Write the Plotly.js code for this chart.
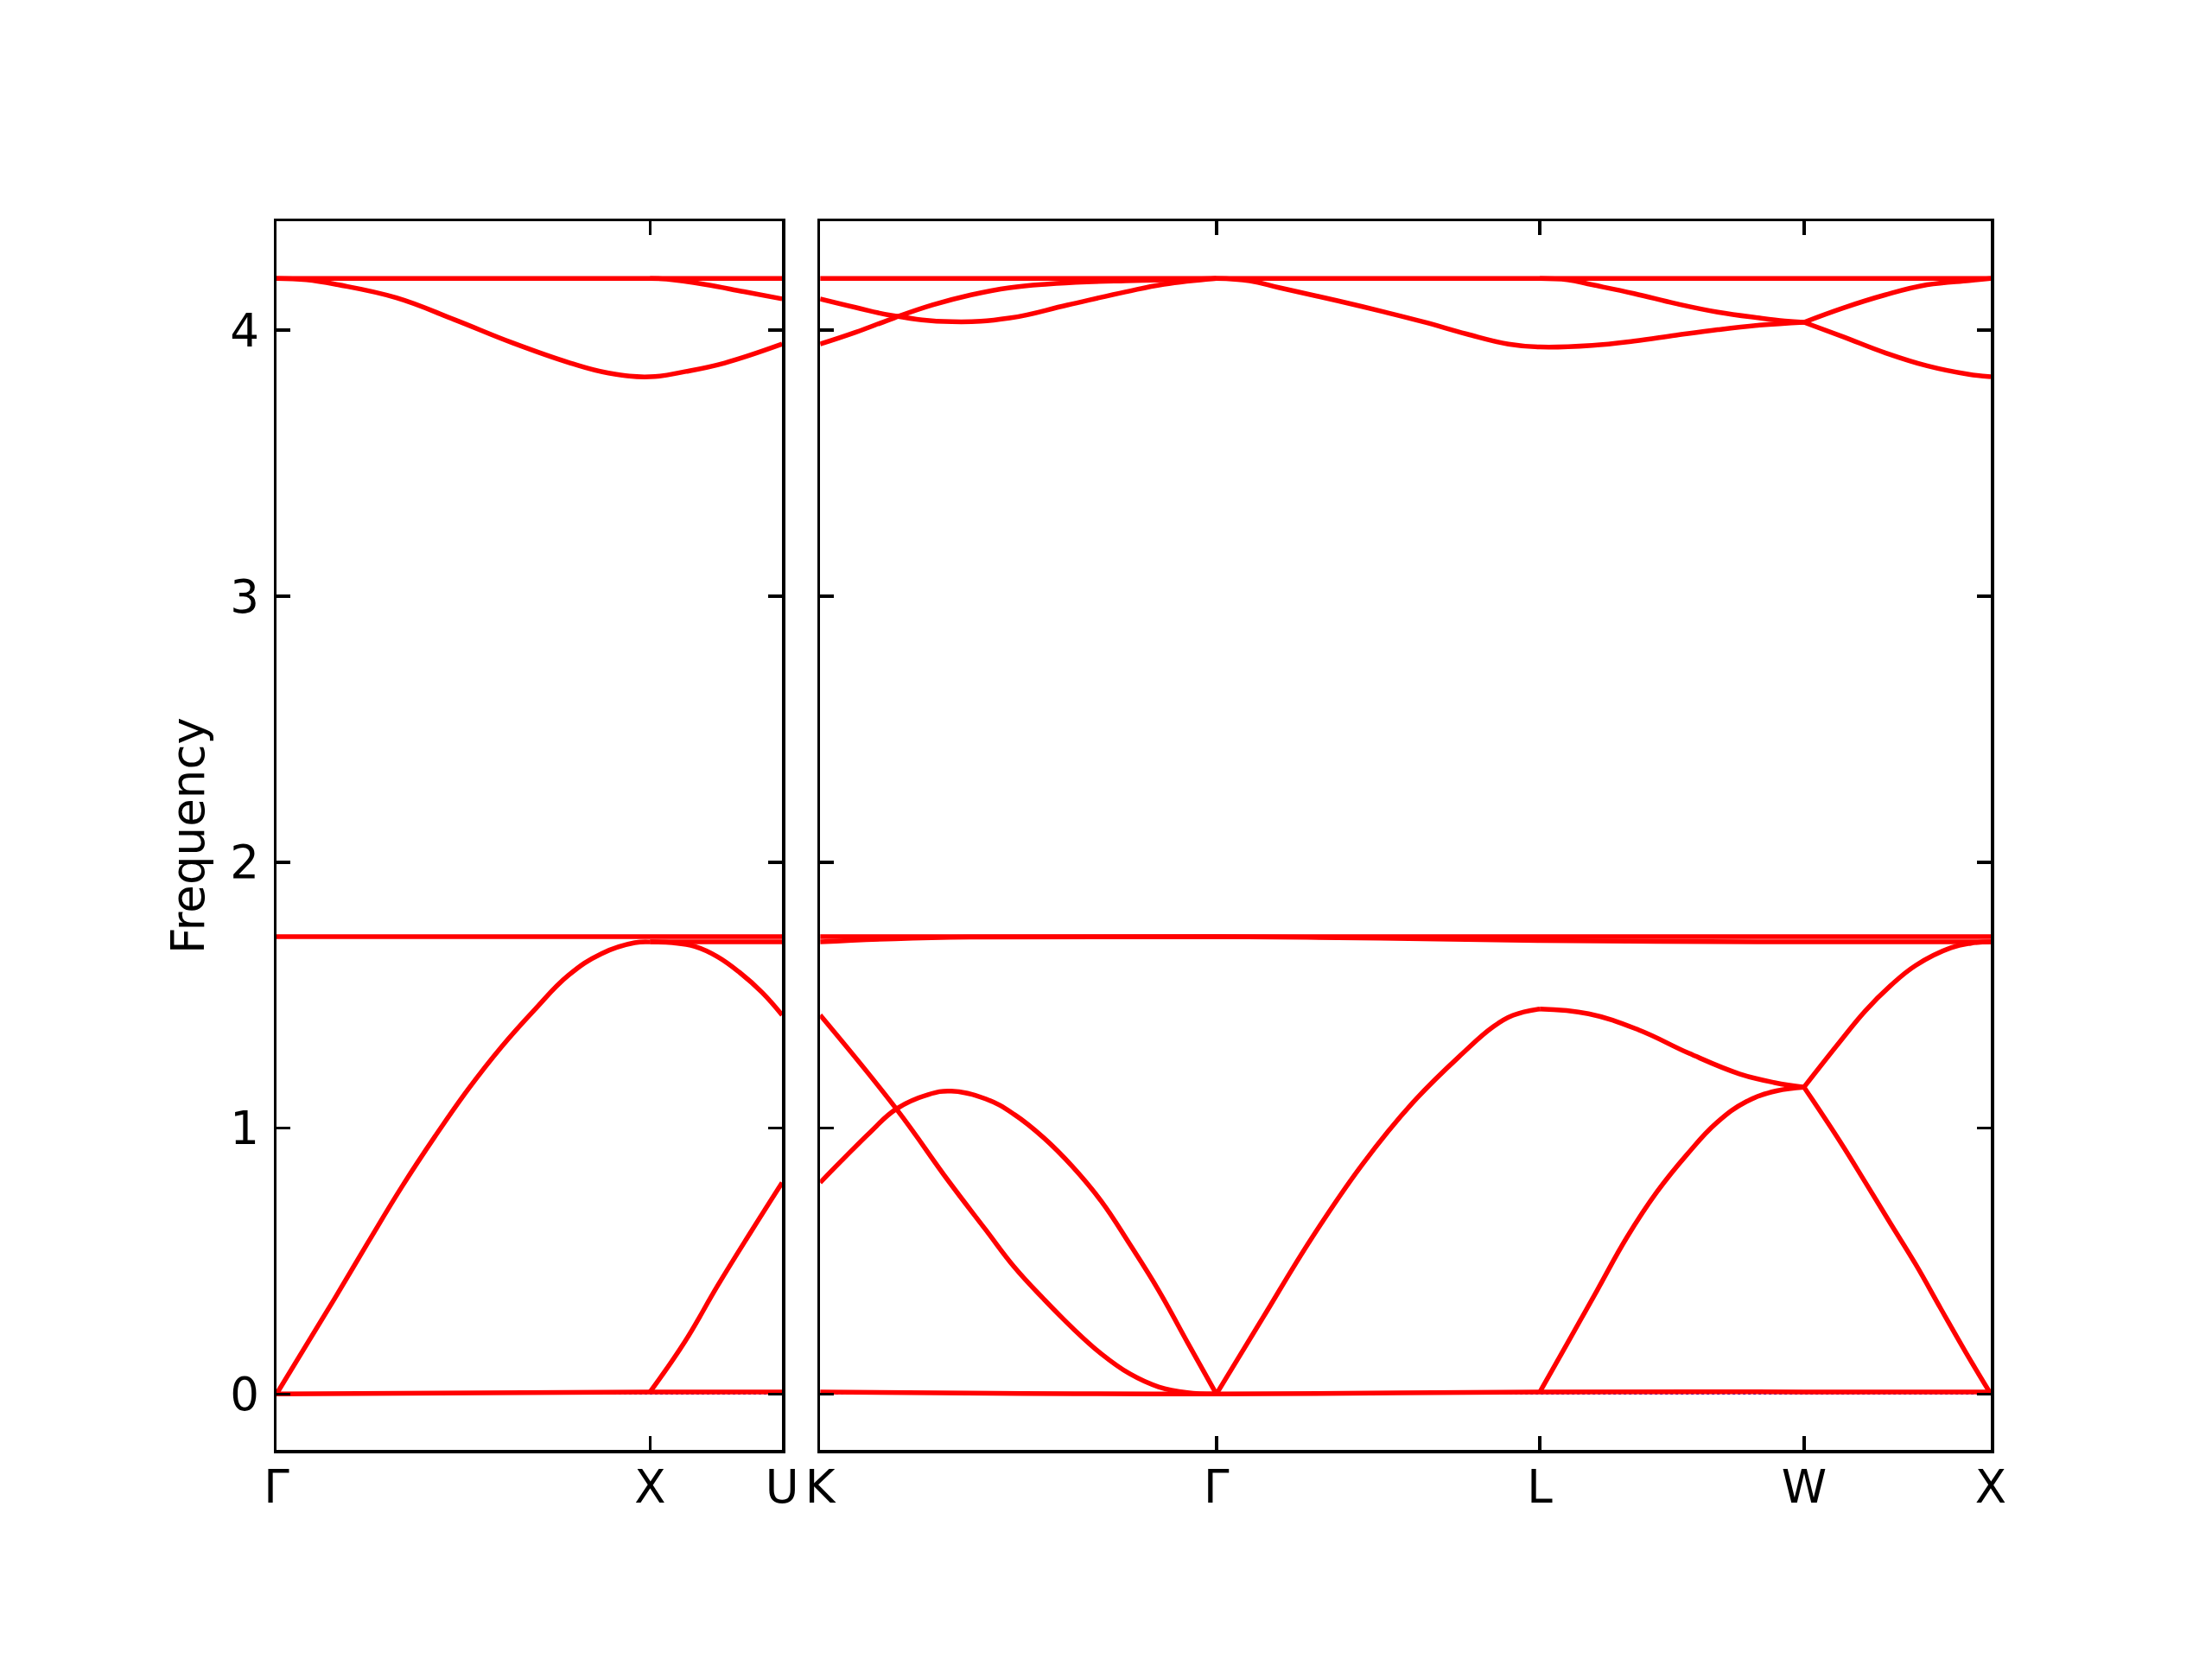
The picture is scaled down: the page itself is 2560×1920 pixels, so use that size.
<!DOCTYPE html>
<html><head><meta charset="utf-8">
<script src="https://cdn.plot.ly/plotly-3.0.1.min.js"></script>
<style>html,body{margin:0;padding:0;background:#fff;} #chart{width:2560px;height:1920px;}</style>
</head><body><div id="chart"></div>
<script>
// ---------- ticks (path distance along the Brillouin-zone path) ----------
const leftTickVals = [0, 1.0, 1.3536];
const leftTickText = ['Γ', 'X', 'U'];
const rightTickVals = [0, 1.0607, 1.9267, 2.6338, 3.1338];
const rightTickText = ['K', 'Γ', 'L', 'W', 'X'];
const yTickVals = [0, 1, 2, 3, 4];
const yTickText = ['0', '1', '2', '3', '4'];
const yRange = [-0.21, 4.41];

// ---------- left panel (Γ–X–U) ----------
const L_top_x = [0, 1.3536];
const L_top_y = [4.195, 4.195];
const L_lo_x = [0, 0.08, 0.165, 0.321, 0.476, 0.631, 0.786, 0.889, 1.0, 1.096, 1.200, 1.3536];
const L_lo_y = [4.195, 4.190, 4.171, 4.122, 4.040, 3.953, 3.877, 3.839, 3.825, 3.845, 3.877, 3.948];
const L_split_x = [1.0, 1.044, 1.148, 1.251, 1.3536];
const L_split_y = [4.195, 4.192, 4.172, 4.145, 4.118];
const L_mid_x = [0, 1.3536];
const L_mid_y = [1.72, 1.72];
const L_la_x = [0, 0.156, 0.245, 0.335, 0.424, 0.513, 0.602, 0.691, 0.781, 0.870, 0.959, 1.0];
const L_la_y = [0.0, 0.360, 0.570, 0.778, 0.968, 1.146, 1.305, 1.445, 1.574, 1.656, 1.697, 1.70];
const L_xuflat_x = [1.0, 1.3536];
const L_xuflat_y = [1.70, 1.70];
const L_desc_x = [1.0, 1.06, 1.12, 1.18, 1.24, 1.30, 1.3536];
const L_desc_y = [1.70, 1.697, 1.683, 1.645, 1.585, 1.51, 1.425];
const L_zero_x = [0, 1.0, 1.3536];
const L_zero_y = [0, 0.008, 0.008];
const L_rise_x = [1.0, 1.0928, 1.182, 1.271, 1.3536];
const L_rise_y = [0.008, 0.196, 0.41, 0.612, 0.795];

// ---------- right panel (K–Γ–L–W–X) ----------
const R_top_x = [0, 3.1338];
const R_top_y = [4.195, 4.195];
const R_D_x = [0, 0.0943, 0.1975, 0.3524, 0.5073, 0.662, 0.817, 0.920, 1.0607];
const R_D_y = [4.118, 4.086, 4.054, 4.032, 4.046, 4.095, 4.144, 4.173, 4.195];
const R_E_x = [0, 0.0943, 0.1975, 0.3008, 0.404, 0.5073, 0.6104, 0.7135, 0.817, 0.920, 1.0607];
const R_E_y = [3.948, 3.992, 4.046, 4.095, 4.133, 4.160, 4.174, 4.182, 4.186, 4.189, 4.195];
const R_F_x = [1.0607, 1.15, 1.2298, 1.3845, 1.5064, 1.6185, 1.7304, 1.8425, 1.9267, 2.0668, 2.1787, 2.2909, 2.403, 2.5151, 2.6338];
const R_F_y = [4.195, 4.186, 4.160, 4.111, 4.070, 4.030, 3.986, 3.948, 3.937, 3.943, 3.959, 3.981, 4.002, 4.019, 4.030];
const R_G_x = [1.9267, 2.0, 2.0668, 2.1787, 2.2909, 2.403, 2.5151, 2.5822, 2.6338];
const R_G_y = [4.195, 4.190, 4.171, 4.138, 4.100, 4.068, 4.046, 4.035, 4.030];
const R_WXup_x = [2.6338, 2.7392, 2.8513, 2.9635, 3.0754, 3.1338];
const R_WXup_y = [4.030, 4.084, 4.133, 4.171, 4.187, 4.195];
const R_WXlo_x = [2.6338, 2.7392, 2.8513, 2.9635, 3.0754, 3.1338];
const R_WXlo_y = [4.030, 3.975, 3.915, 3.866, 3.834, 3.825];
const R_mid_x = [0, 3.1338];
const R_mid_y = [1.72, 1.72];
const R_mid2_x = [0, 0.2, 0.4, 1.0607, 1.5, 1.9267, 2.6338, 3.1338];
const R_mid2_y = [1.70, 1.712, 1.718, 1.72, 1.714, 1.705, 1.70, 1.70];
const R_A_x = [0, 0.204, 0.343, 0.443, 0.520, 0.598, 0.675, 0.752, 0.829, 0.906, 0.983, 1.0607];
const R_A_y = [1.425, 1.072, 0.802, 0.618, 0.477, 0.358, 0.249, 0.152, 0.076, 0.027, 0.005, 0.0];
const R_B_x = [0, 0.057, 0.135, 0.204, 0.289, 0.351, 0.443, 0.520, 0.598, 0.675, 0.752, 0.829, 0.906, 0.983, 1.0607];
const R_B_y = [0.795, 0.877, 0.986, 1.072, 1.126, 1.139, 1.110, 1.051, 0.964, 0.856, 0.726, 0.563, 0.390, 0.195, 0.0];
const R_GL_x = [1.0607, 1.1813, 1.3161, 1.4506, 1.5854, 1.72, 1.8009, 1.8548, 1.9267];
const R_GL_y = [0, 0.278, 0.587, 0.862, 1.094, 1.281, 1.380, 1.424, 1.448];
const R_LWup_x = [1.9267, 2.0569, 2.1915, 2.3262, 2.4608, 2.5551, 2.6338];
const R_LWup_y = [1.448, 1.430, 1.369, 1.281, 1.204, 1.171, 1.154];
const R_LWlo_x = [1.9267, 2.0, 2.08, 2.16, 2.24, 2.32, 2.40, 2.48, 2.56, 2.6338];
const R_LWlo_y = [0.008, 0.19, 0.39, 0.59, 0.76, 0.90, 1.02, 1.10, 1.14, 1.154];
const R_WXa_x = [2.6338, 2.730, 2.798, 2.865, 2.933, 3.027, 3.08, 3.1338];
const R_WXa_y = [1.154, 1.325, 1.441, 1.535, 1.612, 1.678, 1.695, 1.70];
const R_WXb_x = [2.6338, 2.730, 2.798, 2.865, 2.933, 2.9995, 3.0668, 3.1338];
const R_WXb_y = [1.154, 0.950, 0.796, 0.642, 0.487, 0.322, 0.157, 0.0];
const R_zero_x = [0, 1.0607, 1.9267, 2.6338, 3.1338];
const R_zero_y = [0.008, 0, 0.008, 0.008, 0.008];

// ---------- build ----------
const RED = '#ff0000';
const leftBands = [
  [L_top_x, L_top_y], [L_lo_x, L_lo_y], [L_split_x, L_split_y], [L_mid_x, L_mid_y],
  [L_la_x, L_la_y], [L_xuflat_x, L_xuflat_y], [L_desc_x, L_desc_y], [L_zero_x, L_zero_y],
  [L_rise_x, L_rise_y]
];
const rightBands = [
  [R_top_x, R_top_y], [R_D_x, R_D_y], [R_E_x, R_E_y], [R_F_x, R_F_y], [R_G_x, R_G_y],
  [R_WXup_x, R_WXup_y], [R_WXlo_x, R_WXlo_y], [R_mid_x, R_mid_y], [R_mid2_x, R_mid2_y],
  [R_A_x, R_A_y], [R_B_x, R_B_y], [R_GL_x, R_GL_y], [R_LWup_x, R_LWup_y], [R_LWlo_x, R_LWlo_y],
  [R_WXa_x, R_WXa_y], [R_WXb_x, R_WXb_y], [R_zero_x, R_zero_y]
];

const traces = [];
const lEnd = leftTickVals[leftTickVals.length - 1];
const rEnd = rightTickVals[rightTickVals.length - 1];
// zero reference lines (blue dotted)
traces.push({x: [0, lEnd], y: [0, 0], xaxis: 'x', yaxis: 'y', mode: 'lines',
  line: {color: '#0000ff', width: 1.5, dash: 'dot'}, hoverinfo: 'skip', showlegend: false});
traces.push({x: [0, rEnd], y: [0, 0], xaxis: 'x2', yaxis: 'y2', mode: 'lines',
  line: {color: '#0000ff', width: 1.5, dash: 'dot'}, hoverinfo: 'skip', showlegend: false});
const bandLine = {color: RED, width: 5.5, shape: 'spline', smoothing: 1.2};
leftBands.forEach(b => traces.push({x: b[0], y: b[1], xaxis: 'x', yaxis: 'y', mode: 'lines',
  line: bandLine, showlegend: false}));
rightBands.forEach(b => traces.push({x: b[0], y: b[1], xaxis: 'x2', yaxis: 'y2', mode: 'lines',
  line: bandLine, showlegend: false}));

const plotW = 2560 - 320 - 256;
const gapPx = 44;
const pxPerUnit = (plotW - gapPx) / (lEnd + rEnd);
const dL = lEnd * pxPerUnit / plotW;
const dR = (lEnd * pxPerUnit + gapPx) / plotW;

const FONT = {family: 'DejaVu Sans, sans-serif', size: 53, color: '#000'};
const axBase = {
  showgrid: false, zeroline: false, showline: true, linecolor: '#000', linewidth: 3.5,
  mirror: 'allticks', ticks: 'inside', ticklen: 16, tickwidth: 3.5, tickcolor: '#000',
  tickfont: FONT
};

const layout = {
  width: 2560, height: 1920, autosize: false,
  paper_bgcolor: '#fff', plot_bgcolor: '#fff',
  margin: {l: 320, r: 256, t: 256, b: 242},
  showlegend: false,
  font: FONT,
  xaxis: Object.assign({}, axBase, {domain: [0, dL], range: [0, lEnd], anchor: 'y',
    tickmode: 'array', tickvals: leftTickVals, ticktext: leftTickText, ticklabelstandoff: -6}),
  xaxis2: Object.assign({}, axBase, {domain: [dR, 1], range: [0, rEnd], anchor: 'y2',
    tickmode: 'array', tickvals: rightTickVals, ticktext: rightTickText, ticklabelstandoff: -6}),
  yaxis: Object.assign({}, axBase, {range: yRange, anchor: 'x', tickmode: 'array',
    tickvals: yTickVals, ticktext: yTickText, ticklabelstandoff: 6,
    title: {text: 'Frequency', font: FONT, standoff: 13}}),
  yaxis2: Object.assign({}, axBase, {range: yRange, anchor: 'x2', tickmode: 'array',
    tickvals: yTickVals, showticklabels: false})
};

Plotly.newPlot('chart', traces, layout, {displayModeBar: false, staticPlot: true});
</script>
</body></html>
